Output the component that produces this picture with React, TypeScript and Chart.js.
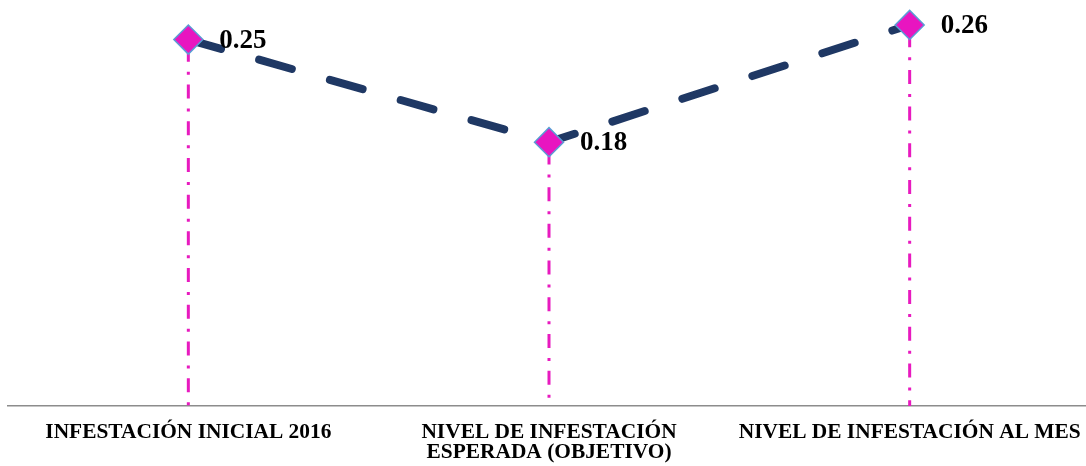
import React, { useEffect, useRef } from "react";
import { Chart, registerables } from "chart.js";

Chart.register(...registerables);

const categories: (string | string[])[] = [
  "INFESTACIÓN INICIAL 2016",
  ["NIVEL DE INFESTACIÓN", "ESPERADA (OBJETIVO)"],
  "NIVEL DE INFESTACIÓN AL MES",
];
const values: number[] = [0.25, 0.18, 0.26];
const valueLabels: string[] = ["0.25", "0.18", "0.26"];

const SERIF = "'Liberation Serif', 'Times New Roman', serif";

const dropLinesPlugin = {
  id: "dropLines",
  beforeDatasetsDraw(chart: any) {
    const meta = chart.getDatasetMeta(0);
    const ctx = chart.ctx;
    const bottom = chart.chartArea.bottom;
    ctx.save();
    ctx.strokeStyle = "#E81ABF";
    ctx.lineWidth = 3;
    ctx.setLineDash([14, 10, 3, 9.7]);
    ctx.lineDashOffset = 28.4;
    meta.data.forEach((pt: any) => {
      ctx.beginPath();
      ctx.moveTo(pt.x, pt.y);
      ctx.lineTo(pt.x, bottom);
      ctx.stroke();
    });
    ctx.restore();
  },
};

const valueLabelPlugin = {
  id: "valueLabels",
  afterDatasetsDraw(chart: any) {
    const meta = chart.getDatasetMeta(0);
    const ctx = chart.ctx;
    ctx.save();
    ctx.font = `bold 27px ${SERIF}`;
    ctx.fillStyle = "#000000";
    ctx.textAlign = "left";
    ctx.textBaseline = "middle";
    meta.data.forEach((pt: any, i: number) => {
      ctx.fillText(valueLabels[i], pt.x + 31, pt.y + 1);
    });
    ctx.restore();
  },
};

export default function App() {
  const canvasRef = useRef<HTMLCanvasElement | null>(null);

  useEffect(() => {
    if (!canvasRef.current) return;
    const chart = new Chart(canvasRef.current, {
      type: "line",
      data: {
        labels: categories as any,
        datasets: [
          {
            data: values,
            borderColor: "#1F3864",
            borderWidth: 8,
            borderDash: [34, 39.6],
            borderCapStyle: "round",
            tension: 0,
            fill: false,
            pointStyle: "rectRot",
            pointRadius: 14.5,
            pointHoverRadius: 14.5,
            pointBackgroundColor: "#E815C0",
            pointBorderColor: "#5B9BD5",
            pointBorderWidth: 1.5,
            clip: false as any,
          },
        ],
      },
      options: {
        animation: false,
        responsive: false,
        maintainAspectRatio: false,
        layout: { autoPadding: false, padding: { left: 8, right: 0, top: 0, bottom: 0 } },
        plugins: {
          legend: { display: false },
          tooltip: { enabled: false },
          title: { display: false },
        },
        scales: {
          x: {
            type: "category",
            offset: true,
            grid: { display: false, drawTicks: false },
            border: { display: true, color: "#8C8C8C", width: 1.5 },
            afterFit: (scale: any) => {
              scale.height = 60;
              scale.paddingLeft = 0;
              scale.paddingRight = 0;
            },
            ticks: {
              autoSkip: false,
              maxRotation: 0,
              minRotation: 0,
              padding: 16,
              color: "#000000",
              font: { family: SERIF, size: 21.4, weight: "bold", lineHeight: 0.96 },
            },
          },
          y: {
            display: false,
            min: 0,
            max: 0.277,
          },
        },
      },
      plugins: [dropLinesPlugin, valueLabelPlugin],
    });
    return () => chart.destroy();
  }, []);

  return (
    <div
      style={{
        position: "fixed",
        left: 0,
        top: 0,
        width: 1086,
        height: 466,
        overflow: "hidden",
        background: "#ffffff",
      }}
    >
      <canvas
        ref={canvasRef}
        width={1090}
        height={466}
        style={{ position: "absolute", left: 0, top: 0, width: 1090, height: 466 }}
      />
    </div>
  );
}
